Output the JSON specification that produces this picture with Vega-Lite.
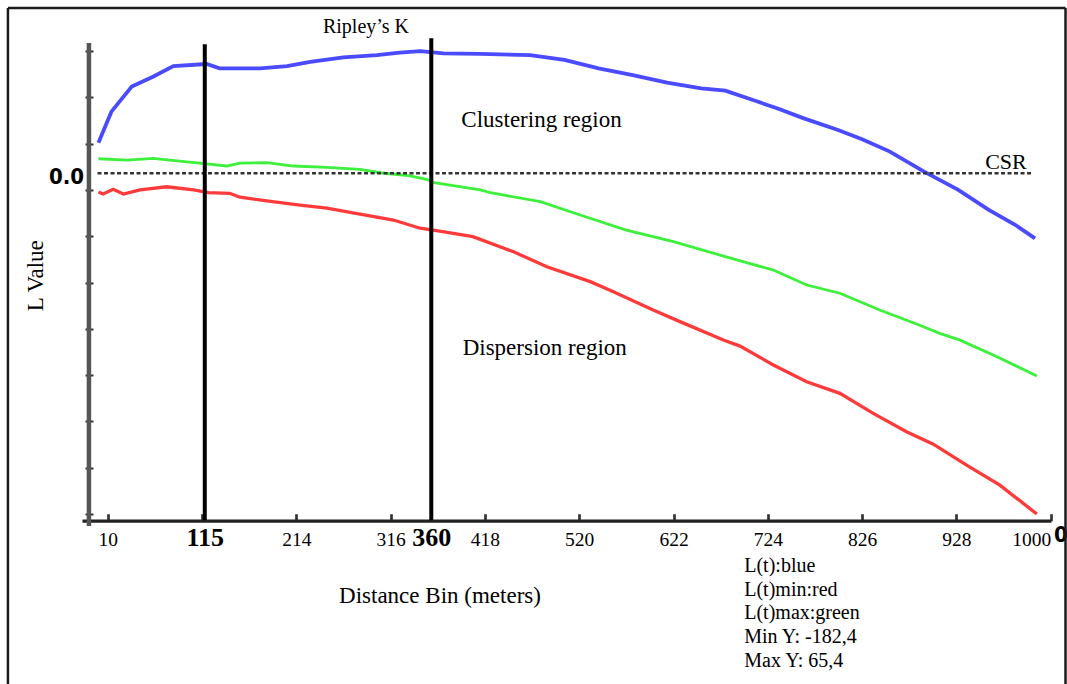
{
  "$schema": "https://vega.github.io/schema/vega-lite/v6.json",
  "width": 969,
  "height": 483,
  "autosize": "none",
  "padding": {"left": 82, "top": 43, "right": 16, "bottom": 158},
  "background": "white",
  "config": {"view": {"stroke": null}},
  "data": {"values": [{}]},
  "datasets": {
    "series": [
      {"d": 0, "L": 16.4, "s": "L(t)"}, {"d": 14, "L": 33.0, "s": "L(t)"}, {"d": 36, "L": 46.4, "s": "L(t)"}, {"d": 59, "L": 51.7, "s": "L(t)"}, {"d": 81, "L": 57.4, "s": "L(t)"}, {"d": 117, "L": 58.5, "s": "L(t)"}, {"d": 131, "L": 56.2, "s": "L(t)"}, {"d": 175, "L": 56.2, "s": "L(t)"}, {"d": 204, "L": 57.4, "s": "L(t)"}, {"d": 229, "L": 59.7, "s": "L(t)"}, {"d": 265, "L": 62.1, "s": "L(t)"}, {"d": 301, "L": 63.3, "s": "L(t)"}, {"d": 326, "L": 64.6, "s": "L(t)"}, {"d": 348, "L": 65.4, "s": "L(t)"}, {"d": 373, "L": 64.2, "s": "L(t)"}, {"d": 413, "L": 63.9, "s": "L(t)"}, {"d": 467, "L": 63.3, "s": "L(t)"}, {"d": 504, "L": 60.7, "s": "L(t)"}, {"d": 541, "L": 56.2, "s": "L(t)"}, {"d": 578, "L": 52.6, "s": "L(t)"}, {"d": 615, "L": 48.5, "s": "L(t)"}, {"d": 652, "L": 45.5, "s": "L(t)"}, {"d": 678, "L": 44.2, "s": "L(t)"}, {"d": 708, "L": 39.2, "s": "L(t)"}, {"d": 734, "L": 34.8, "s": "L(t)"}, {"d": 763, "L": 29.4, "s": "L(t)"}, {"d": 800, "L": 23.2, "s": "L(t)"}, {"d": 826, "L": 18.2, "s": "L(t)"}, {"d": 856, "L": 11.6, "s": "L(t)"}, {"d": 893, "L": 0.9, "s": "L(t)"}, {"d": 930, "L": -8.9, "s": "L(t)"}, {"d": 963, "L": -19.6, "s": "L(t)"}, {"d": 992, "L": -27.7, "s": "L(t)"}, {"d": 1013, "L": -34.8, "s": "L(t)"},
      {"d": 0, "L": 7.8, "s": "L(t)max"}, {"d": 31, "L": 7.1, "s": "L(t)max"}, {"d": 59, "L": 8.0, "s": "L(t)max"}, {"d": 85, "L": 6.7, "s": "L(t)max"}, {"d": 117, "L": 5.0, "s": "L(t)max"}, {"d": 139, "L": 3.9, "s": "L(t)max"}, {"d": 153, "L": 5.4, "s": "L(t)max"}, {"d": 182, "L": 5.7, "s": "L(t)max"}, {"d": 211, "L": 3.9, "s": "L(t)max"}, {"d": 247, "L": 3.2, "s": "L(t)max"}, {"d": 283, "L": 2.1, "s": "L(t)max"}, {"d": 305, "L": 0.3, "s": "L(t)max"}, {"d": 337, "L": -1.4, "s": "L(t)max"}, {"d": 355, "L": -3.2, "s": "L(t)max"}, {"d": 363, "L": -5.0, "s": "L(t)max"}, {"d": 413, "L": -8.9, "s": "L(t)max"}, {"d": 424, "L": -10.4, "s": "L(t)max"}, {"d": 478, "L": -15.2, "s": "L(t)max"}, {"d": 521, "L": -22.3, "s": "L(t)max"}, {"d": 571, "L": -30.4, "s": "L(t)max"}, {"d": 622, "L": -36.6, "s": "L(t)max"}, {"d": 676, "L": -44.3, "s": "L(t)max"}, {"d": 730, "L": -51.8, "s": "L(t)max"}, {"d": 766, "L": -59.8, "s": "L(t)max"}, {"d": 802, "L": -64.2, "s": "L(t)max"}, {"d": 845, "L": -73.2, "s": "L(t)max"}, {"d": 885, "L": -80.7, "s": "L(t)max"}, {"d": 910, "L": -85.7, "s": "L(t)max"}, {"d": 932, "L": -89.3, "s": "L(t)max"}, {"d": 972, "L": -98.2, "s": "L(t)max"}, {"d": 1015, "L": -108.5, "s": "L(t)max"},
      {"d": 0, "L": -10.0, "s": "L(t)min"}, {"d": 5, "L": -11.1, "s": "L(t)min"}, {"d": 16, "L": -8.6, "s": "L(t)min"}, {"d": 27, "L": -11.1, "s": "L(t)min"}, {"d": 45, "L": -8.9, "s": "L(t)min"}, {"d": 74, "L": -7.2, "s": "L(t)min"}, {"d": 103, "L": -8.9, "s": "L(t)min"}, {"d": 119, "L": -10.4, "s": "L(t)min"}, {"d": 142, "L": -10.7, "s": "L(t)min"}, {"d": 153, "L": -12.8, "s": "L(t)min"}, {"d": 182, "L": -14.7, "s": "L(t)min"}, {"d": 218, "L": -17.0, "s": "L(t)min"}, {"d": 247, "L": -18.7, "s": "L(t)min"}, {"d": 283, "L": -21.8, "s": "L(t)min"}, {"d": 319, "L": -25.0, "s": "L(t)min"}, {"d": 348, "L": -29.4, "s": "L(t)min"}, {"d": 369, "L": -31.0, "s": "L(t)min"}, {"d": 405, "L": -33.9, "s": "L(t)min"}, {"d": 449, "L": -42.0, "s": "L(t)min"}, {"d": 485, "L": -50.0, "s": "L(t)min"}, {"d": 532, "L": -58.0, "s": "L(t)min"}, {"d": 557, "L": -63.4, "s": "L(t)min"}, {"d": 600, "L": -73.2, "s": "L(t)min"}, {"d": 629, "L": -79.4, "s": "L(t)min"}, {"d": 676, "L": -89.2, "s": "L(t)min"}, {"d": 694, "L": -92.5, "s": "L(t)min"}, {"d": 730, "L": -102.6, "s": "L(t)min"}, {"d": 766, "L": -111.6, "s": "L(t)min"}, {"d": 802, "L": -117.8, "s": "L(t)min"}, {"d": 838, "L": -128.5, "s": "L(t)min"}, {"d": 874, "L": -138.3, "s": "L(t)min"}, {"d": 903, "L": -145.0, "s": "L(t)min"}, {"d": 939, "L": -156.2, "s": "L(t)min"}, {"d": 975, "L": -166.9, "s": "L(t)min"}, {"d": 1015, "L": -182.4, "s": "L(t)min"}
    ]
  },
  "layer": [
    {
      "mark": {"type": "text", "text": "0", "font": "'DejaVu Sans Condensed', 'Liberation Sans Narrow', sans-serif", "fontSize": 22, "fontWeight": "bold", "align": "left", "baseline": "alphabetic", "color": "black"},
      "encoding": {"x": {"datum": 1033.5, "type": "quantitative"}, "y": {"datum": -197.4, "type": "quantitative"}}
    },
    {
      "mark": {"type": "rule", "color": "#1a1a1a", "strokeWidth": 2.5},
      "encoding": {"x": {"datum": -97.9, "type": "quantitative"}, "y": {"datum": 88.5, "type": "quantitative"}, "y2": {"datum": -282}}
    },
    {
      "mark": {"type": "rule", "color": "#1a1a1a", "strokeWidth": 2.5},
      "encoding": {"x": {"datum": 1046, "type": "quantitative"}, "y": {"datum": 88.5, "type": "quantitative"}, "y2": {"datum": -282}}
    },
    {
      "mark": {"type": "rule", "color": "#1a1a1a", "strokeWidth": 2.5},
      "encoding": {"x": {"datum": -97.9, "type": "quantitative"}, "x2": {"datum": 1046}, "y": {"datum": 88.5, "type": "quantitative"}}
    },
    {
      "data": {"name": "series"},
      "mark": {"type": "line", "interpolate": "linear"},
      "encoding": {
        "x": {
          "field": "d", "type": "quantitative",
          "scale": {"domain": [-17.8, 1030.3], "nice": false, "zero": false},
          "axis": {
            "title": null, "offset": -5.3, "grid": false,
            "values": [10, 112, 115, 214, 316, 360, 418, 520, 622, 724, 826, 928, 1030],
            "labelExpr": "datum.value == 112 ? '' : (datum.value == 1030 ? '1000' : format(datum.value, 'd'))",
            "labelFont": "Liberation Serif",
            "labelFontSize": {"condition": {"test": "datum.value == 115 || datum.value == 360", "value": 26}, "value": 19.5},
            "labelFontWeight": {"condition": {"test": "datum.value == 115 || datum.value == 360", "value": "bold"}, "value": "normal"},
            "labelAlign": {"condition": {"test": "datum.value == 1030", "value": "right"}, "value": "center"},
            "labelColor": "black", "labelBaseline": "alphabetic", "labelPadding": 32,
            "labelOverlap": false, "labelFlush": false, "labelBound": false,
            "tickSize": -7, "tickWidth": 2.7, "tickColor": "#333333",
            "tickOpacity": {"condition": {"test": "datum.value == 115 || datum.value == 360", "value": 0}, "value": 1},
            "domainColor": "#222222", "domainWidth": 3.3
          }
        },
        "y": {
          "field": "L", "type": "quantitative",
          "scale": {"domain": [-188.8, 69.75], "nice": false, "zero": false},
          "axis": {
            "title": null, "offset": -11, "grid": false, "domain": false,
            "values": [65.4, 40.62, 15.84, 0, -8.94, -33.72, -58.5, -83.28, -108.06, -132.84, -157.62, -182.4],
            "labelExpr": "datum.value == 0 ? '0.0' : ''",
            "labelFont": "'DejaVu Sans Condensed', 'Liberation Sans Narrow', sans-serif",
            "labelFontSize": 22, "labelFontWeight": "bold", "labelColor": "black",
            "labelPadding": 1.5, "labelOffset": 3, "labelBaseline": "middle",
            "labelOverlap": false, "labelFlush": false, "labelBound": false,
            "tickSize": 8, "tickWidth": 2, "tickColor": "#333333",
            "tickOpacity": {"condition": {"test": "datum.value == 0", "value": 0}, "value": 1}
          }
        },
        "color": {
          "field": "s", "type": "nominal",
          "scale": {"domain": ["L(t)", "L(t)min", "L(t)max"], "range": ["#4a4aff", "#ff3a3a", "#3cf03c"]},
          "legend": null
        },
        "strokeWidth": {
          "field": "s", "type": "nominal",
          "scale": {"domain": ["L(t)", "L(t)min", "L(t)max"], "range": [3.8, 2.8, 2.8]},
          "legend": null
        }
      }
    },
    {
      "mark": {"type": "rule", "color": "#333333", "strokeWidth": 2.5, "strokeDash": [4, 2.5]},
      "encoding": {"x": {"datum": -1, "type": "quantitative"}, "x2": {"datum": 1011}, "y": {"datum": 0, "type": "quantitative"}}
    },
    {
      "mark": {"type": "rule", "color": "black", "strokeWidth": 4},
      "encoding": {"x": {"datum": 115, "type": "quantitative"}, "y": {"datum": 69.1, "type": "quantitative"}, "y2": {"datum": -185.7}}
    },
    {
      "mark": {"type": "rule", "color": "black", "strokeWidth": 4},
      "encoding": {"x": {"datum": 360, "type": "quantitative"}, "y": {"datum": 72.3, "type": "quantitative"}, "y2": {"datum": -185.7}}
    },
    {
      "mark": {"type": "rule", "color": "#555555", "strokeWidth": 4.5},
      "encoding": {"x": {"datum": -10.3, "type": "quantitative"}, "y": {"datum": 69.75, "type": "quantitative"}, "y2": {"datum": -188.8}}
    },
    {
      "mark": {"type": "text", "text": "Ripley’s K", "font": "Liberation Serif", "fontSize": 20, "align": "center", "baseline": "alphabetic", "color": "black"},
      "encoding": {"x": {"datum": 289.4, "type": "quantitative"}, "y": {"datum": 74.9, "type": "quantitative"}}
    },
    {
      "mark": {"type": "text", "text": "Clustering region", "font": "Liberation Serif", "fontSize": 23, "align": "left", "baseline": "alphabetic", "color": "black"},
      "encoding": {"x": {"datum": 392.5, "type": "quantitative"}, "y": {"datum": 24.9, "type": "quantitative"}}
    },
    {
      "mark": {"type": "text", "text": "Dispersion region", "font": "Liberation Serif", "fontSize": 23, "align": "left", "baseline": "alphabetic", "color": "black"},
      "encoding": {"x": {"datum": 393.9, "type": "quantitative"}, "y": {"datum": -97.3, "type": "quantitative"}}
    },
    {
      "mark": {"type": "text", "text": "CSR", "font": "Liberation Serif", "fontSize": 22, "align": "right", "baseline": "alphabetic", "color": "black"},
      "encoding": {"x": {"datum": 1004.1, "type": "quantitative"}, "y": {"datum": 2.1, "type": "quantitative"}}
    },
    {
      "mark": {"type": "text", "text": "Distance Bin (meters)", "font": "Liberation Serif", "fontSize": 23, "align": "center", "baseline": "alphabetic", "color": "black"},
      "encoding": {"x": {"datum": 369.4, "type": "quantitative"}, "y": {"datum": -229.9, "type": "quantitative"}}
    },
    {
      "mark": {"type": "text", "text": "L Value", "font": "Liberation Serif", "fontSize": 23, "align": "center", "baseline": "alphabetic", "angle": 270, "color": "black"},
      "encoding": {"x": {"datum": -60.0, "type": "quantitative"}, "y": {"datum": -54.8, "type": "quantitative"}}
    },
    {
      "mark": {"type": "text", "text": ["L(t):blue", "L(t)min:red", "L(t)max:green", "Min Y: -182,4", "Max Y: 65,4"], "font": "Liberation Serif", "fontSize": 20, "lineHeight": 23.75, "align": "left", "baseline": "alphabetic", "color": "black"},
      "encoding": {"x": {"datum": 698.5, "type": "quantitative"}, "y": {"datum": -213.3, "type": "quantitative"}}
    }
  ]
}
